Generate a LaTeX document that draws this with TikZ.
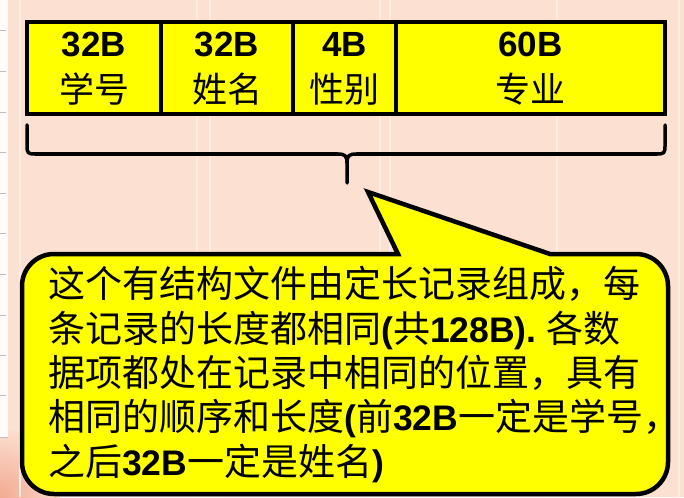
\documentclass[tikz,border=0pt]{standalone}
\usepackage{fontspec}
\setmainfont{Liberation Sans}
\newfontfamily\cjk{Noto Sans CJK SC}
\definecolor{bgpeach}{RGB}{252,224,210}
\definecolor{stripe}{RGB}{253,236,226}
\definecolor{glow}{RGB}{242,170,145}
\definecolor{ylw}{RGB}{255,255,0}
\tikzset{
  cell/.style={draw=black, line width=4pt, fill=ylw, inner sep=0pt},
  numtxt/.style={anchor=base, inner sep=0pt, font=\fontsize{35}{40}\selectfont\bfseries},
  lbltxt/.style={anchor=base, inner sep=0pt, font=\fontsize{35}{40}\selectfont\cjk},
  bracepath/.style={draw=black, line width=3.5pt, line cap=round, line join=round},
  calloutshape/.style={draw=black, line width=4.5pt, fill=ylw, line join=miter},
  linetxt/.style={anchor=base west, inner sep=0pt, font=\fontsize{37}{44}\selectfont\cjk},
}
\newcommand{\lat}[1]{{\fontsize{35.5}{44}\selectfont\rmfamily\bfseries #1}}
\begin{document}
\begin{tikzpicture}[x=1pt,y=-1pt]
\useasboundingbox (0,0) rectangle (684,497);
% background
\fill[bgpeach] (0,0) rectangle (684,497);
\begin{scope}
\clip (0,430) rectangle (60,497);
\shade[inner color=glow, outer color=bgpeach] (0,497) circle (70);
\end{scope}
\foreach \xx in {20,197,210,380,390,557,679}
  \draw[stripe, line width=1.5pt] (\xx,0) -- (\xx,497);
\fill[white!92!bgpeach] (0,0) rectangle (8,437);
\draw[black!25, line width=0.6pt] (0,437) -- (8,437);
\foreach \yy in {30,71,112,152,193,233,274,315,355,395}
  \draw[black!25, line width=0.8pt] (0,\yy) -- (6,\yy);
% table cells
\node[cell, minimum width=134pt, minimum height=92pt] (c1) at (94,68) {};
\node[cell, minimum width=132pt, minimum height=92pt] (c2) at (227,68) {};
\node[cell, minimum width=103pt, minimum height=92pt] (c3) at (344.5,68) {};
\node[cell, minimum width=269pt, minimum height=92pt] (c4) at (530.5,68) {};
\node[numtxt] (n1) at (94,57) {32B};
\node[numtxt] (n2) at (227,57) {32B};
\node[numtxt] (n3) at (344.5,57) {4B};
\node[numtxt] (n4) at (530.5,57) {60B};
\node[lbltxt] (l1) at (94,102.5) {学号};
\node[lbltxt] (l2) at (227,102.5) {姓名};
\node[lbltxt] (l3) at (344.5,102.5) {性别};
\node[lbltxt] (l4) at (530.5,102.5) {专业};
% brace
\coordinate (bl) at (27,125);
\coordinate (br) at (665,125);
\coordinate (bt) at (347,183);
\draw[bracepath] (bl) -- (27,146) .. controls (27,153) and (28,154) .. (35,154)
  -- (338,154) .. controls (345,154) and (347,156) .. (347,163) -- (bt);
\draw[bracepath] (347,163) .. controls (347,156) and (349,154) .. (356,154)
  -- (657,154) .. controls (664,154) and (665,153) .. (665,146) -- (br);
% callout
\coordinate (tip) at (368,192);
\draw[calloutshape] (398,254) -- (tip) -- (550,254) -- (636,254) arc (-90:0:32)
  -- (668,462) arc (0:90:32) -- (54,494) arc (90:180:32) -- (22,286) arc (180:270:32) -- cycle;
% callout text
\node[linetxt] (t1) at (48,297) {这个有结构文件由定长记录组成，每};
\node[linetxt] (t2) at (48,342) {条记录的长度都相同\lat{(}共\lat{128B). }各数};
\node[linetxt] (t3) at (48,386) {据项都处在记录中相同的位置，具有};
\node[linetxt] (t4) at (48,430) {相同的顺序和长度\lat{(}前\lat{32B}一定是学号，};
\node[linetxt] (t5) at (48,475) {之后\lat{32B}一定是姓名\lat{)}};
\end{tikzpicture}
\end{document}
